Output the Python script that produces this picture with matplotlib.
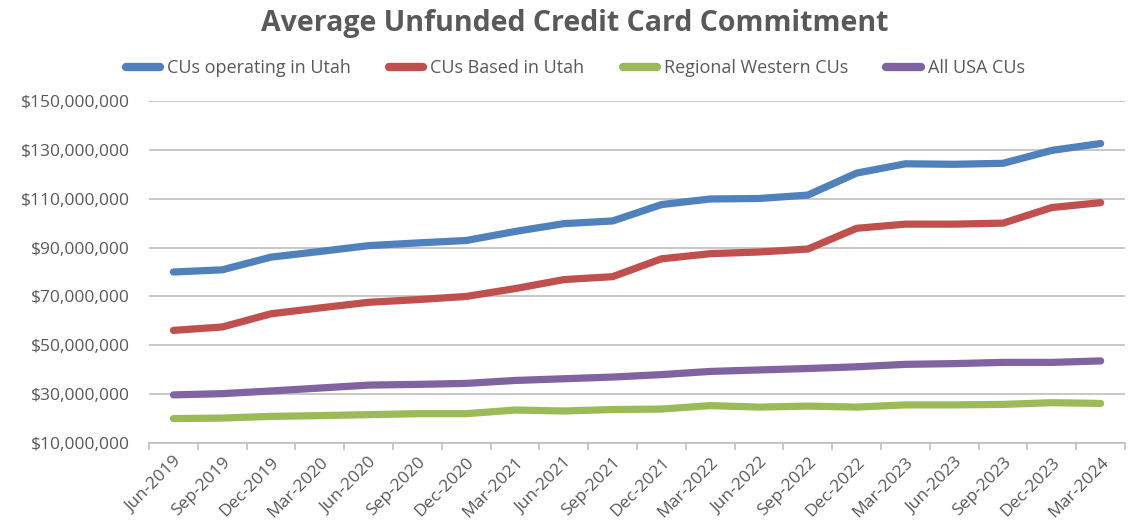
import numpy as np
import matplotlib.pyplot as plt
from matplotlib.ticker import FuncFormatter, FixedLocator

# Quarter labels
quarters = ["Jun-2019", "Sep-2019", "Dec-2019", "Mar-2020", "Jun-2020", "Sep-2020", "Dec-2020",
            "Mar-2021", "Jun-2021", "Sep-2021", "Dec-2021", "Mar-2022", "Jun-2022", "Sep-2022",
            "Dec-2022", "Mar-2023", "Jun-2023", "Sep-2023", "Dec-2023", "Mar-2024"]

# Values in millions of dollars
operating_utah = [80.0, 80.9, 86.1, 88.4, 90.8, 91.9, 92.9, 96.6, 99.8, 100.9,
                  107.6, 109.9, 110.1, 111.5, 120.5, 124.3, 124.1, 124.5, 129.8, 132.6]
based_utah = [56.1, 57.5, 62.9, 65.3, 67.6, 68.7, 70.0, 73.2, 76.9, 78.1,
              85.4, 87.5, 88.2, 89.4, 97.9, 99.6, 99.6, 100.0, 106.4, 108.4]
regional_western = [20.0, 20.2, 20.9, 21.2, 21.6, 22.0, 22.0, 23.5, 23.1, 23.7,
                    23.9, 25.3, 24.7, 25.1, 24.7, 25.6, 25.6, 25.8, 26.5, 26.2]
all_usa = [29.7, 30.2, 31.3, 32.5, 33.7, 34.0, 34.4, 35.6, 36.3, 37.0,
           38.0, 39.3, 39.9, 40.5, 41.2, 42.2, 42.5, 43.0, 43.0, 43.6]

# y-axis tick values (millions)
y_ticks = [10, 30, 50, 70, 90, 110, 130, 150]

series_names = ["CUs operating in Utah", "CUs Based in Utah", "Regional Western CUs", "All USA CUs"]
colors = ["#4F81BD", "#C0504D", "#9BBB59", "#8064A2"]

plt.rcParams['font.family'] = ['Open Sans', 'DejaVu Sans']
text_color = "#595959"
grid_color = "#BFBFBF"

fig = plt.figure(figsize=(11.3, 5.27), dpi=100)
ax = fig.add_axes([0.1319, 0.1594, 0.8637, 0.6489])

x = np.arange(len(quarters))
for vals, name, c in zip([operating_utah, based_utah, regional_western, all_usa], series_names, colors):
    ax.plot(x, np.array(vals) * 1e6, color=c, lw=5.2, label=name, solid_capstyle='round', solid_joinstyle='round')

# Axes limits and ticks
ax.set_xlim(-0.5, len(quarters) - 0.5)
ax.set_ylim(10e6, 150e6)
ax.yaxis.set_major_locator(FixedLocator([v * 1e6 for v in y_ticks]))
ax.yaxis.set_major_formatter(FuncFormatter(lambda v, p: f"${v:,.0f}"))
ax.grid(axis='y', color=grid_color, lw=1.2)
ax.set_axisbelow(True)

ax.set_xticks(x)
ax.set_xticklabels(quarters, rotation=45, ha='right', rotation_mode='anchor')
ax.set_xticks(np.arange(-0.5, len(quarters)), minor=True)
ax.tick_params(axis='x', which='major', length=0, pad=8, labelsize=12.5, labelcolor=text_color)
ax.tick_params(axis='x', which='minor', length=5, color=grid_color, width=1.2)
ax.tick_params(axis='y', length=0, pad=14, labelsize=12.5, labelcolor=text_color)

for side in ['top', 'right', 'left']:
    ax.spines[side].set_visible(False)
ax.spines['bottom'].set_color(grid_color)
ax.spines['bottom'].set_linewidth(1.2)

# Title and legend
fig.text(0.509, 0.955, "Average Unfunded Credit Card Commitment", ha='center', va='center',
         fontsize=20.5, fontweight='bold', color=text_color)
leg = fig.legend(loc='center', bbox_to_anchor=(0.509, 0.871), ncol=4, frameon=False,
                 fontsize=13, handlelength=1.9, columnspacing=2.1, handletextpad=0.4)
for t in leg.get_texts():
    t.set_color(text_color)
for h in leg.get_lines():
    h.set_linewidth(6)

fig.savefig("out.png", dpi=100)
